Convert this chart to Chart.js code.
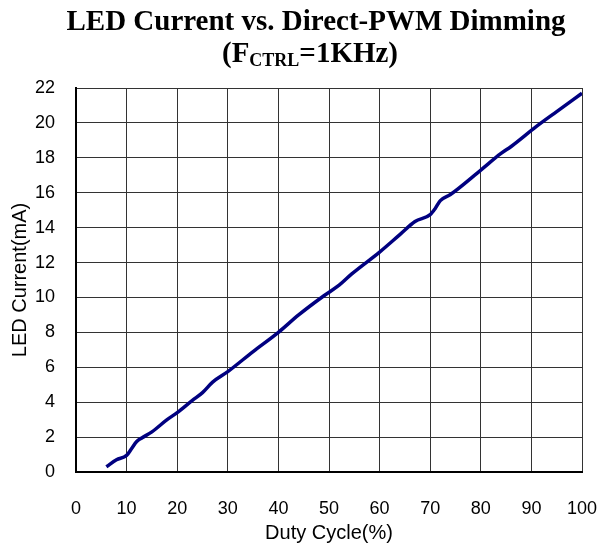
<!DOCTYPE html>
<html>
<head>
<meta charset="utf-8">
<script src="https://cdn.jsdelivr.net/npm/chart.js@4/dist/chart.umd.min.js"></script>
<style>
  html, body { margin: 0; padding: 0; background: #fff; }
  #wrap { width: 600px; height: 548px; position: relative; }
</style>
</head>
<body>
<div id="wrap"><canvas id="chart" width="600" height="548"></canvas></div>
<script>
// values
const dutyCycle = [6, 8, 10, 11, 12, 13, 15, 18, 20, 23, 25, 27, 30, 35, 40, 44, 49, 52, 54.5, 60, 64, 67, 70, 71, 72, 74, 80, 84, 86, 91, 95, 100];
const ledCurrent = [0.3, 0.7, 0.95, 1.35, 1.75, 1.95, 2.3, 3.0, 3.4, 4.1, 4.55, 5.15, 5.75, 6.9, 8.0, 9.0, 10.1, 10.7, 11.35, 12.6, 13.6, 14.35, 14.75, 15.1, 15.55, 15.9, 17.3, 18.25, 18.65, 19.8, 20.65, 21.7];
const xTicks = [0, 10, 20, 30, 40, 50, 60, 70, 80, 90, 100];
const yTicks = [0, 2, 4, 6, 8, 10, 12, 14, 16, 18, 20, 22];

const titleLine1 = 'LED Current vs. Direct-PWM Dimming';
const titleLine2 = ['(F', 'CTRL', '=1KHz)'];

const sans = "'Liberation Sans', Arial, sans-serif";
const serif = "'Liberation Serif', 'Times New Roman', serif";

// title with subscript, drawn on the canvas
const titlePlugin = {
  id: 'twoLineTitle',
  afterDraw(chart) {
    const ctx = chart.ctx;
    ctx.save();
    ctx.fillStyle = '#000';
    ctx.textBaseline = 'alphabetic';
    ctx.font = 'bold 29px ' + serif;
    ctx.textAlign = 'center';
    ctx.fillText(titleLine1, 316, 30);

    ctx.textAlign = 'left';
    const big = 'bold 29px ' + serif;
    const small = 'bold 18px ' + serif;
    ctx.font = big;
    const w1 = ctx.measureText(titleLine2[0]).width;
    const w3 = ctx.measureText(titleLine2[2]).width;
    ctx.font = small;
    const w2 = ctx.measureText(titleLine2[1]).width;
    let x = 310 - (w1 + w2 + w3) / 2;
    ctx.font = big;
    ctx.fillText(titleLine2[0], x, 62);
    x += w1;
    ctx.font = small;
    ctx.fillText(titleLine2[1], x, 66);
    x += w2;
    ctx.font = big;
    ctx.fillText(titleLine2[2], x, 62);
    ctx.restore();
  }
};

const points = dutyCycle.map((d, i) => ({ x: d, y: ledCurrent[i] }));

new Chart(document.getElementById('chart'), {
  type: 'line',
  data: {
    datasets: [{
      data: points,
      borderColor: '#000080',
      borderWidth: 3.5,
      pointRadius: 0,
      cubicInterpolationMode: 'monotone',
      fill: false
    }]
  },
  options: {
    responsive: false,
    animation: false,
    layout: { padding: { top: 88, right: 18, left: 0, bottom: 0 } },
    plugins: {
      legend: { display: false },
      tooltip: { enabled: false }
    },
    scales: {
      x: {
        type: 'linear',
        min: 0,
        max: 100,
        afterFit: s => { s.height = 76; s.paddingLeft = 0; s.paddingRight = 0; },
        afterBuildTicks: s => { s.ticks = xTicks.map(v => ({ value: v })); },
        ticks: { padding: 26, color: '#000', font: { family: sans, size: 18 }, maxRotation: 0 },
        grid: { color: '#333', lineWidth: 1, drawTicks: false },
        border: { color: '#000', width: 2 },
        title: { display: true, text: 'Duty Cycle(%)', color: '#000', font: { family: sans, size: 20 }, padding: { top: 0, bottom: 3 } }
      },
      y: {
        min: 0,
        max: 22,
        afterFit: s => { s.width = 76; s.paddingTop = 0; s.paddingBottom = 0; },
        afterBuildTicks: s => { s.ticks = yTicks.map(v => ({ value: v })); },
        ticks: { padding: 21, color: '#000', font: { family: sans, size: 18 } },
        grid: { color: '#333', lineWidth: 1, drawTicks: false },
        border: { color: '#000', width: 2 },
        title: { display: true, text: 'LED Current(mA)', color: '#000', font: { family: sans, size: 20 }, padding: { top: 8, bottom: 0 } }
      }
    }
  },
  plugins: [titlePlugin]
});
</script>
</body>
</html>
